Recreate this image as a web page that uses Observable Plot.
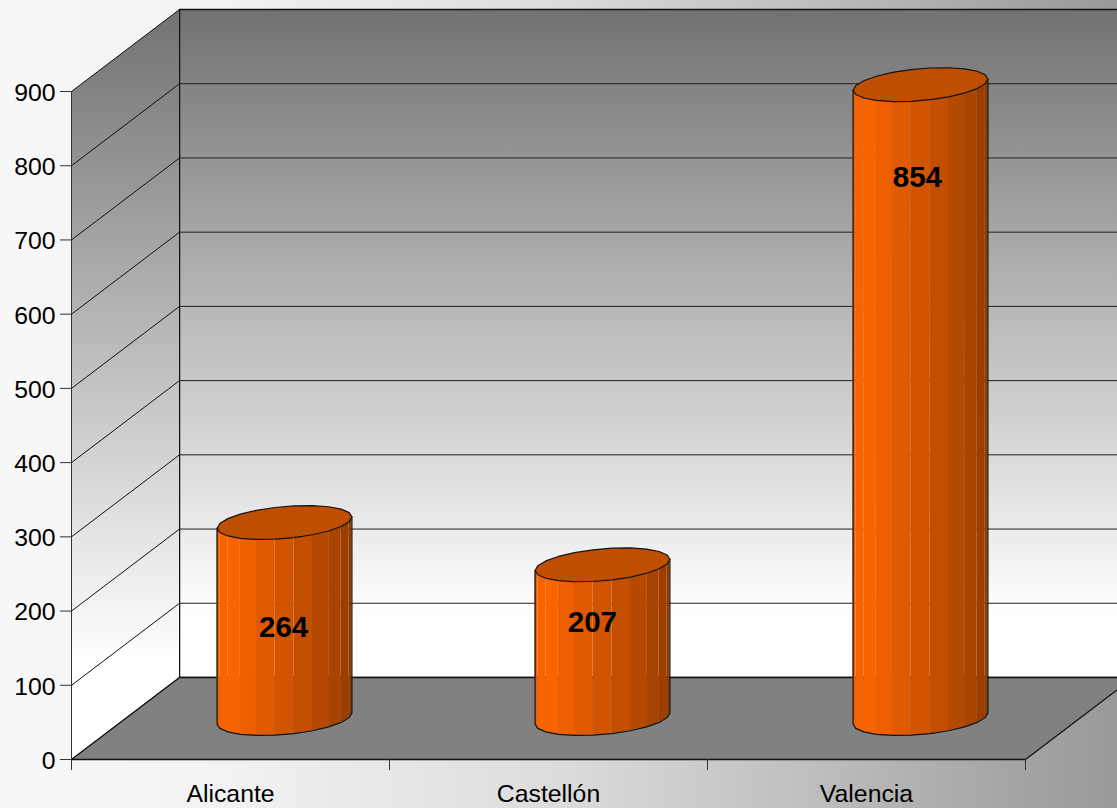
<!DOCTYPE html>
<html>
<head>
<meta charset="utf-8">
<script src="https://cdn.jsdelivr.net/npm/d3@7"></script>
<script src="https://cdn.jsdelivr.net/npm/@observablehq/plot@0.6"></script>
<style>
html,body{margin:0;padding:0;width:1117px;height:808px;overflow:hidden;
background:linear-gradient(to right,#f8f8f8 0%,#f2f2f2 20%,#dcdcdc 50%,#bfbfbf 72%,#a8a8a8 88%,#999999 100%);}
svg{display:block;}
</style>
</head>
<body>
<script>
const categories = ["Alicante", "Castellón", "Valencia"];
const values = [264, 207, 854];
const labelLevels = [178, 185, 784];
const labelOffsets = [0.667, 1.638, 2.66];
const yTicks = [0, 100, 200, 300, 400, 500, 600, 700, 800, 900];
const gridLevels = [100, 200, 300, 400, 500, 600, 700, 800];

// oblique projection of the chart box: depth 0 (front) .. 1 (back), in scale units
const depthX = 108 / 318;
const depthY = 82 / (668 / 900);
const P = (x, v, d) => ({x: x + d * depthX, y: v + d * depthY});

const yMax = 900, xMax = categories.length;
const backWall = [P(0,0,1), P(xMax,0,1), P(xMax,yMax,1), P(0,yMax,1), P(0,0,1)];
const sideWall = [P(0,0,0), P(0,0,1), P(0,yMax,1), P(0,yMax,0), P(0,0,0)];
const floorPlane = [P(0,0,0), P(xMax,0,0), P(xMax,0,1), P(0,0,1), P(0,0,0)];
const backGrid = gridLevels.flatMap(v => [{...P(0,v,1), v}, {...P(xMax,v,1), v}]);
const sideGrid = gridLevels.flatMap(v => [{...P(0,v,0), v}, {...P(0,v,1), v}]);

// cylinders
const radiusX = 0.2, radiusD = 0.207, segments = 22;
const phi = Math.atan2(radiusD * depthX, radiusX);
const ring = (i, v, t) => P(i + 0.5 + radiusX * Math.cos(t), v, 0.5 + radiusD * Math.sin(t));
const shade = d3.scaleLinear()
  .domain([0, 0.08, 0.3, 0.6, 0.85, 1])
  .range(["#ee6000", "#ff6600", "#e55c00", "#c85000", "#ad4500", "#933b00"]);

const facets = [], outlines = [], caps = [];
values.forEach((v, i) => {
  const front = d3.range(segments / 2 + 1).map(k => phi + Math.PI + k * 2 * Math.PI / segments);
  for (let k = 0; k < segments / 2; k++) {
    const u = (1 - Math.cos(front[k] - phi - Math.PI + Math.PI / segments)) / 2;
    [front[k], front[k + 1]].forEach(t => {
      const lo = ring(i, 0, t), hi = ring(i, v, t);
      facets.push({x: lo.x, y1: lo.y, y2: hi.y, id: i + "-" + k, color: shade(u)});
    });
  }
  // silhouette: up the left, around the front base, up the right
  outlines.push({...ring(i, v, front[0]), id: i});
  front.forEach(t => outlines.push({...ring(i, 0, t), id: i}));
  outlines.push({...ring(i, v, front[front.length - 1]), id: i});
  d3.range(segments + 1).forEach(k => caps.push({...ring(i, v, phi + k * 2 * Math.PI / segments), id: i}));
});
const labels = values.map((v, i) => ({x: labelOffsets[i], y: labelLevels[i], t: String(v)}));

const defs = () => {
  const s = d3.create("svg:defs");
  const add = (id, y1, y2) => {
    const g = s.append("linearGradient").attr("id", id).attr("gradientUnits", "userSpaceOnUse")
      .attr("x1", 0).attr("x2", 0).attr("y1", y1).attr("y2", y2);
    g.append("stop").attr("offset", 0).attr("stop-color", "#727272");
    g.append("stop").attr("offset", 1).attr("stop-color", "#ffffff");
  };
  add("backGrad", 10, 615);
  add("sideGrad", 10, 660);
  return s.node();
};

const chart = Plot.plot({
  width: 1117, height: 808,
  marginLeft: 71, marginRight: 92, marginTop: 91, marginBottom: 49,
  x: {domain: [0, xMax]},
  y: {domain: [0, yMax]},
  color: {type: "identity"},
  style: {fontFamily: "'Liberation Sans', Arial, sans-serif", fontSize: "24px", background: "transparent", color: "#000", overflow: "hidden"},
  marks: [
    defs,
    Plot.line(backWall, {x: "x", y: "y", fill: "url(#backGrad)", stroke: "#111", strokeWidth: 1.5, curve: "linear"}),
    Plot.line(sideWall, {x: "x", y: "y", fill: "url(#sideGrad)", stroke: "#111", strokeWidth: 1, curve: "linear"}),
    Plot.line(floorPlane, {x: "x", y: "y", fill: "#818181", stroke: "#111", strokeWidth: 1.3, curve: "linear"}),
    Plot.line(backGrid, {x: "x", y: "y", z: "v", stroke: "#222", strokeWidth: 1}),
    Plot.line(sideGrid, {x: "x", y: "y", z: "v", stroke: "#111", strokeWidth: 1}),
    Plot.area(facets, {x1: "x", y1: "y1", y2: "y2", z: "id", fill: "color", curve: "linear"}),
    Plot.line(outlines, {x: "x", y: "y", z: "id", stroke: "#111", strokeWidth: 1.2, curve: "linear"}),
    Plot.line(caps, {x: "x", y: "y", z: "id", fill: "#bf4f00", stroke: "#111", strokeWidth: 1.2, curve: "linear"}),
    Plot.text(labels, {x: "x", y: "y", text: "t", fontSize: 29.5, fontWeight: "bold", fill: "#000"}),
    Plot.axisY({anchor: "left", ticks: yTicks, tickSize: 11, tickPadding: 5, stroke: "#333", fill: "#000", label: null, fontSize: 24.8, textStroke: "none"}),
    Plot.ruleX([0], {y1: -14, y2: yMax, stroke: "#333", strokeWidth: 1}),
    Plot.axisX({anchor: "bottom", ticks: d3.range(xMax + 1), tickSize: 11, tickFormat: () => "", stroke: "#333", label: null}),
    Plot.axisX({anchor: "bottom", ticks: categories.map((_, i) => i + 0.5), tickSize: 0, tickPadding: 25, tickFormat: d => categories[d - 0.5], fill: "#000", label: null, fontSize: 24.8})
  ]
});
// tick labels sit slightly below their ticks in the reference
chart.querySelectorAll('[aria-label="y-axis tick label"] text').forEach(t => t.setAttribute("dy", "1.5"));
document.body.appendChild(chart);
</script>
</body>
</html>
